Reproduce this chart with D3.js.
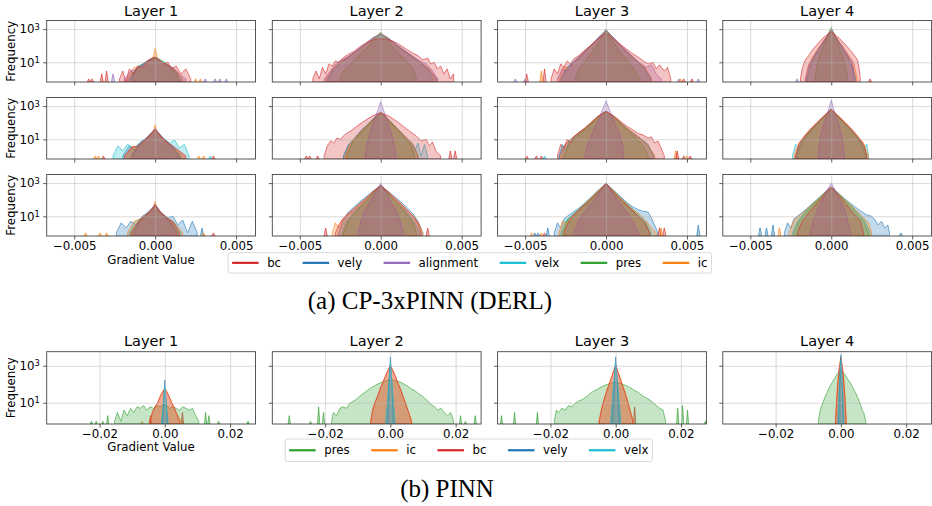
<!DOCTYPE html>
<html>
<head>
<meta charset="utf-8">
<script src="https://cdn.jsdelivr.net/npm/d3@7"></script>
<style>
    body { margin: 0; background: #fff; }
</style>
</head>
<body>
<svg id="base" width="932" height="506" font-family="DejaVu Sans, sans-serif"></svg>
<script>
// colours and labels
const colors = {
    bc: "#d62728", vely: "#1f77b4", alignment: "#9467bd",
    velx: "#17becf", pres: "#2ca02c", ic: "#ff7f0e"
};
const topSeries = ["bc", "vely", "alignment", "velx", "pres", "ic"];
const botSeries = ["pres", "ic", "bc", "vely", "velx"];
const layerNames = ["Layer 1", "Layer 2", "Layer 3", "Layer 4"];
const topXTicks = [-0.005, 0, 0.005];
const topXLabels = ["\u22120.005", "0.000", "0.005"];
const botXTicks = [-0.02, 0, 0.02];
const botXLabels = ["\u22120.02", "0.00", "0.02"];
const yTicks = [10, 1000];
const captionA = "(a) CP-3xPINN (DERL)";
const captionB = "(b) PINN";

// x values are in units of 1e-3, counts are raw bin counts
const UNIT = 1e-3;

// (a) row 1
const r1L1 = {
    bc: [[-2.2,1],[-2.0,3],[-1.8,0.5],[-1.6,4],[-1.3,2],[-1.1,6],[-0.8,5],[-0.5,12],[-0.2,18],[0,20],[0.2,15],[0.5,8],[0.8,10],[1.0,4],[1.3,6],[1.6,2],[1.9,4],[2.2,1]],
    vely: [[-1.6,1],[-1.2,4],[-0.8,7],[-0.4,12],[0,18],[0.4,10],[0.8,6],[1.2,3],[1.6,1]],
    alignment: [[-1.9,1],[-1.5,3],[-1.1,4],[-0.7,9],[-0.3,15],[0,20],[0.3,13],[0.7,7],[1.1,5],[1.5,2],[1.9,1]],
    velx: [[-1.5,1],[-1.1,5],[-0.7,8],[-0.3,14],[0,19],[0.3,12],[0.7,8],[1.1,3],[1.5,1]],
    pres: [[-1.4,2],[-1.0,6],[-0.6,10],[-0.3,15],[0,21],[0.3,15],[0.6,10],[1.0,5],[1.4,2]],
    ic: [[-1.7,1],[-1.3,5],[-0.9,4],[-0.5,9],[-0.15,14],[0,70],[0.15,16],[0.5,9],[0.9,6],[1.3,3],[1.7,1]]
};
const r1L1Spikes = [["bc",-4.1,1],["bc",-3.9,1],["bc",-3.3,2],["bc",-3.0,3],["alignment",-2.6,2],["ic",2.5,1],["ic",2.8,1],["alignment",3.1,1],["alignment",3.7,1],["alignment",4.0,1],["alignment",4.4,1]];

const r1L2 = {
    bc: [[-4.2,1],[-4.0,3],[-3.8,1],[-3.6,5],[-3.4,2],[-3.2,8],[-3.0,6],[-2.8,12],[-2.6,10],[-2.3,20],[-2.0,30],[-1.6,50],[-1.2,100],[-0.8,170],[-0.4,240],[0,260],[0.4,240],[0.8,180],[1.2,110],[1.6,60],[2.0,35],[2.3,25],[2.6,14],[2.9,18],[3.1,8],[3.3,10],[3.5,4],[3.7,6],[3.9,2],[4.1,4],[4.3,1],[4.5,2]],
    vely: [[-3.3,1],[-3.0,3],[-2.7,6],[-2.3,12],[-1.9,25],[-1.4,55],[-0.9,130],[-0.4,320],[0,480],[0.4,300],[0.9,120],[1.4,50],[1.9,22],[2.4,10],[2.8,5],[3.2,2],[3.5,1]],
    alignment: [[-3.5,1],[-3.1,3],[-2.8,8],[-2.4,14],[-2.0,22],[-1.5,50],[-1.0,120],[-0.5,300],[0,520],[0.5,280],[1.0,110],[1.5,50],[2.0,22],[2.4,12],[2.8,8],[3.2,3],[3.5,1]],
    velx: [[-3.2,1],[-2.9,4],[-2.5,10],[-2.0,22],[-1.5,48],[-1.0,110],[-0.5,280],[0,500],[0.5,270],[1.0,110],[1.5,48],[2.0,22],[2.5,10],[2.9,4],[3.2,1]],
    pres: [[-2.5,1],[-2.3,3],[-2.0,6],[-1.6,14],[-1.2,35],[-0.8,80],[-0.4,250],[0,660],[0.4,230],[0.8,70],[1.2,28],[1.6,12],[2.0,4],[2.2,1]],
    ic: [[-3.4,1],[-3.0,4],[-2.6,9],[-2.2,16],[-1.8,28],[-1.3,60],[-0.8,150],[-0.4,330],[0,540],[0.4,320],[0.8,140],[1.3,55],[1.8,26],[2.2,14],[2.6,8],[3.0,4],[3.4,1]]
};
const r1L2Spikes = [];

const r1L3 = {
    bc: [[-3.4,1],[-3.2,4],[-3.0,2],[-2.8,8],[-2.6,5],[-2.4,12],[-2.2,8],[-2.0,16],[-1.7,25],[-1.4,45],[-1.1,80],[-0.8,140],[-0.4,300],[0,570],[0.4,300],[0.8,140],[1.2,70],[1.6,35],[2.0,20],[2.3,12],[2.6,8],[2.9,10],[3.1,4],[3.3,7],[3.6,3],[3.8,5],[4.0,1]],
    vely: [[-2.8,1],[-2.5,4],[-2.1,9],[-1.7,20],[-1.3,50],[-0.9,110],[-0.5,280],[0,880],[0.5,270],[0.9,100],[1.3,45],[1.7,18],[2.1,8],[2.5,3],[2.8,1]],
    alignment: [[-3.0,1],[-2.7,4],[-2.4,3],[-2.1,8],[-1.7,18],[-1.3,45],[-0.9,110],[-0.5,300],[0,900],[0.5,280],[0.9,110],[1.3,45],[1.7,20],[2.1,9],[2.5,5],[2.8,7],[3.1,2],[3.4,1]],
    velx: [[-2.7,1],[-2.4,5],[-2.0,10],[-1.6,22],[-1.2,50],[-0.8,130],[-0.4,330],[0,900],[0.4,320],[0.8,120],[1.2,50],[1.6,20],[2.0,9],[2.4,4],[2.7,1]],
    pres: [[-1.9,1],[-1.7,4],[-1.4,8],[-1.1,20],[-0.8,50],[-0.4,200],[0,950],[0.4,190],[0.8,50],[1.2,18],[1.5,8],[1.8,3],[2.1,1]],
    ic: [[-2.9,1],[-2.6,6],[-2.3,4],[-2.0,10],[-1.6,22],[-1.2,55],[-0.8,130],[-0.4,320],[0,880],[0.4,310],[0.8,125],[1.2,50],[1.6,22],[2.0,9],[2.4,5],[2.8,1]]
};
const r1L3Spikes = [["alignment",-5.6,1],["alignment",-5.0,1],["bc",-4.9,2],["bc",-3.8,4],["ic",-4.0,3],["alignment",4.5,1],["bc",4.8,1],["ic",4.6,1],["bc",5.3,1],["alignment",5.7,1]];

const r1L4 = {
    bc: [[-1.9,1],[-1.8,4],[-1.7,8],[-1.6,14],[-1.4,25],[-1.2,50],[-0.9,110],[-0.5,300],[0,700],[0.5,280],[0.9,110],[1.2,50],[1.4,28],[1.6,15],[1.7,6],[1.8,1]],
    vely: [[-1.5,1],[-1.3,6],[-1.0,25],[-0.6,100],[-0.3,300],[0,900],[0.3,290],[0.6,95],[1.0,22],[1.3,5],[1.5,1]],
    alignment: [[-1.6,1],[-1.4,6],[-1.1,20],[-0.7,90],[-0.3,350],[0,900],[0.3,330],[0.7,80],[1.1,20],[1.3,12],[1.4,2]],
    velx: [[-1.5,1],[-1.3,7],[-1.0,26],[-0.6,105],[-0.3,310],[0,920],[0.3,300],[0.6,100],[1.0,24],[1.3,6],[1.5,1]],
    pres: [[-1.0,1],[-0.9,6],[-0.7,25],[-0.4,150],[-0.2,500],[0,1260],[0.2,480],[0.4,140],[0.7,22],[0.9,5],[1.0,1]],
    ic: [[-1.6,1],[-1.4,7],[-1.1,25],[-0.7,100],[-0.3,320],[0,880],[0.3,310],[0.7,95],[1.1,24],[1.4,8],[1.6,1]]
};
const r1L4Spikes = [["alignment",-2.1,1],["bc",2.4,1]];

// (a) row 2
const r2L1 = {
    bc: [[-1.9,1],[-1.5,3],[-1.1,4],[-0.7,8],[-0.3,20],[0,40],[0.3,18],[0.7,7],[1.1,4],[1.5,2],[1.9,1]],
    vely: [[-2.0,1],[-1.6,4],[-1.2,2],[-0.8,8],[-0.4,15],[0,38],[0.4,14],[0.8,6],[1.2,3],[1.6,1]],
    alignment: [[-1.4,1],[-1.0,5],[-0.6,10],[-0.3,22],[0,45],[0.3,20],[0.6,9],[1.0,4],[1.4,1]],
    velx: [[-2.6,1],[-2.3,4],[-2.0,2],[-1.7,5],[-1.3,3],[-0.9,7],[-0.5,12],[0,35],[0.5,12],[0.9,6],[1.2,9],[1.5,3],[1.8,5],[2.1,1]],
    pres: [[-1.5,1],[-1.1,4],[-0.7,8],[-0.3,18],[0,36],[0.3,16],[0.7,8],[1.1,3],[1.5,1]],
    ic: [[-1.8,1],[-1.4,4],[-1.0,3],[-0.6,9],[-0.15,22],[0,75],[0.15,20],[0.6,8],[1.0,3],[1.4,2],[1.8,1]]
};
const r2L1Spikes = [["ic",-3.7,1],["ic",-3.5,1],["bc",-3.2,1],["ic",2.7,1],["ic",3.0,1],["velx",3.4,1],["bc",3.6,1]];

const r2L2 = {
    bc: [[-3.5,1],[-3.3,4],[-3.1,8],[-2.9,6],[-2.7,12],[-2.5,10],[-2.2,20],[-1.8,35],[-1.4,70],[-1.0,130],[-0.5,260],[0,400],[0.5,250],[1.0,120],[1.4,60],[1.8,30],[2.2,16],[2.5,8],[2.8,10],[3.0,4],[3.2,7],[3.4,2],[3.7,1]],
    vely: [[-2.3,1],[-2.0,4],[-1.6,12],[-1.2,35],[-0.8,80],[-0.4,200],[0,430],[0.4,190],[0.8,75],[1.2,30],[1.6,12],[2.0,5],[2.3,1]],
    alignment: [[-0.95,1],[-0.8,8],[-0.6,40],[-0.4,150],[-0.2,500],[0,1800],[0.2,480],[0.4,140],[0.6,35],[0.8,6],[0.95,1]],
    velx: [[-2.3,1],[-2.0,5],[-1.6,12],[-1.2,35],[-0.8,80],[-0.4,200],[0,430],[0.4,190],[0.8,75],[1.2,30],[1.6,10],[1.9,5],[2.1,2],[2.3,6],[2.5,1],[2.7,5],[2.9,1]],
    pres: [[-2.1,1],[-1.8,5],[-1.4,15],[-1.0,40],[-0.5,130],[0,420],[0.5,130],[1.0,40],[1.4,15],[1.8,5],[2.1,1]],
    ic: [[-2.2,1],[-1.9,5],[-1.5,14],[-1.1,38],[-0.6,110],[0,440],[0.6,110],[1.1,36],[1.5,14],[1.9,6],[2.3,1]]
};
const r2L2Spikes = [["bc",-4.6,1],["bc",-4.4,1],["bc",-3.9,1],["bc",4.3,2],["bc",4.6,2]];

const r2L3 = {
    bc: [[-3.0,1],[-2.8,5],[-2.6,3],[-2.4,10],[-2.2,6],[-2.0,14],[-1.7,25],[-1.3,50],[-0.9,110],[-0.5,250],[0,470],[0.5,250],[0.9,120],[1.3,60],[1.7,35],[2.0,22],[2.3,18],[2.6,12],[2.8,14],[3.0,6],[3.2,8],[3.4,3],[3.6,1]],
    vely: [[-2.9,1],[-2.6,4],[-2.2,10],[-1.8,20],[-1.3,45],[-0.9,100],[-0.5,240],[0,480],[0.5,230],[0.9,100],[1.3,45],[1.8,20],[2.2,10],[2.6,5],[2.9,1]],
    alignment: [[-1.3,1],[-1.1,6],[-0.8,30],[-0.5,120],[-0.25,500],[0,2000],[0.25,480],[0.5,110],[0.8,25],[1.0,5],[1.1,1]],
    velx: [[-2.9,1],[-2.7,5],[-2.5,2],[-2.3,7],[-2.0,12],[-1.6,25],[-1.2,55],[-0.8,120],[-0.4,270],[0,490],[0.4,260],[0.8,120],[1.2,55],[1.6,25],[2.0,12],[2.4,6],[2.7,3],[3.0,1]],
    pres: [[-2.6,1],[-2.3,5],[-1.9,12],[-1.5,28],[-1.0,70],[-0.5,220],[0,500],[0.5,210],[1.0,65],[1.5,25],[1.9,10],[2.3,4],[2.6,1]],
    ic: [[-2.8,1],[-2.5,5],[-2.1,12],[-1.7,24],[-1.2,55],[-0.7,150],[0,490],[0.7,145],[1.2,52],[1.7,22],[2.1,11],[2.5,5],[2.8,2],[3.0,1]]
};
const r2L3Spikes = [["bc",-4.9,1],["bc",-4.3,1],["bc",-4.0,1],["velx",-3.8,1],["ic",4.3,2],["bc",4.4,2],["bc",4.8,1],["ic",5.0,1],["bc",5.2,1]];

const r2L4 = {
    bc: [[-2.2,1],[-2.0,5],[-1.7,14],[-1.3,40],[-0.9,100],[-0.5,240],[0,620],[0.5,230],[0.9,95],[1.3,38],[1.7,13],[2.0,5],[2.2,1]],
    vely: [[-2.2,1],[-1.9,6],[-1.5,20],[-1.1,55],[-0.6,170],[0,630],[0.6,165],[1.1,52],[1.5,18],[1.9,6],[2.2,1]],
    alignment: [[-0.8,1],[-0.7,10],[-0.5,60],[-0.3,250],[-0.15,700],[0,2200],[0.15,680],[0.3,240],[0.5,55],[0.7,8],[0.8,1]],
    velx: [[-2.4,1],[-2.2,5],[-2.0,3],[-1.8,8],[-1.4,25],[-1.0,65],[-0.5,200],[0,640],[0.5,195],[1.0,62],[1.4,22],[1.8,8],[2.0,3],[2.2,5],[2.3,1]],
    pres: [[-2.1,1],[-1.8,6],[-1.4,22],[-1.0,60],[-0.5,190],[0,650],[0.5,185],[1.0,58],[1.4,20],[1.8,6],[2.1,1]],
    ic: [[-2.3,1],[-2.0,6],[-1.6,18],[-1.2,48],[-0.7,140],[0,640],[0.7,135],[1.2,45],[1.6,16],[2.0,6],[2.3,1]]
};
const r2L4Spikes = [];

// (a) row 3
const r3L1 = {
    bc: [[-1.5,1],[-1.1,4],[-0.7,9],[-0.3,22],[0,50],[0.3,20],[0.7,8],[1.1,5],[1.5,1]],
    vely: [[-2.4,1],[-2.1,4],[-1.8,2],[-1.5,5],[-1.2,3],[-0.8,10],[-0.4,18],[0,45],[0.4,16],[0.8,8],[1.1,10],[1.4,3],[1.7,6],[2.0,1],[2.3,5],[2.6,1]],
    alignment: [[-1.3,1],[-0.9,6],[-0.5,14],[-0.2,28],[0,55],[0.2,26],[0.5,12],[0.9,5],[1.3,1]],
    velx: [[-1.6,1],[-1.2,5],[-0.8,8],[-0.4,18],[0,48],[0.4,15],[0.8,7],[1.2,4],[1.6,1]],
    pres: [[-1.4,1],[-1.0,5],[-0.6,10],[-0.3,20],[0,48],[0.3,18],[0.6,9],[1.0,4],[1.4,1]],
    ic: [[-1.7,1],[-1.3,5],[-0.9,7],[-0.5,14],[-0.15,25],[0,80],[0.15,24],[0.5,12],[0.9,6],[1.3,3],[1.7,1]]
};
const r3L1Spikes = [["ic",-4.3,1],["ic",-3.4,1],["ic",-3.0,1],["vely",2.9,2],["ic",3.0,1],["bc",3.6,1]];

const r3L2 = {
    bc: [[-2.8,1],[-2.6,3],[-2.3,8],[-2.0,15],[-1.6,30],[-1.2,70],[-0.8,150],[-0.4,350],[0,700],[0.4,330],[0.8,140],[1.2,60],[1.6,25],[2.0,10],[2.3,4],[2.5,1]],
    vely: [[-2.6,1],[-2.3,6],[-2.0,18],[-1.6,40],[-1.2,90],[-0.8,180],[-0.4,380],[0,720],[0.4,360],[0.8,170],[1.2,80],[1.6,35],[2.0,14],[2.3,5],[2.6,1]],
    alignment: [[-1.4,1],[-1.2,6],[-1.0,20],[-0.7,60],[-0.4,200],[0,1000],[0.4,190],[0.7,55],[1.0,18],[1.2,5],[1.4,1]],
    velx: [[-2.4,1],[-2.1,5],[-1.8,12],[-1.4,30],[-1.0,70],[-0.5,200],[0,730],[0.5,190],[1.0,65],[1.4,28],[1.8,10],[2.1,4],[2.4,1]],
    pres: [[-2.3,1],[-2.0,5],[-1.6,16],[-1.2,45],[-0.8,110],[-0.4,300],[0,740],[0.4,290],[0.8,100],[1.2,40],[1.6,14],[2.0,4],[2.2,1]],
    ic: [[-3.0,1],[-2.8,4],[-2.6,2],[-2.4,6],[-2.1,10],[-1.7,25],[-1.3,55],[-0.9,120],[-0.5,280],[0,720],[0.5,270],[0.9,115],[1.3,50],[1.7,20],[2.1,8],[2.4,3],[2.6,1]]
};
const r3L2Spikes = [["bc",-3.4,2],["bc",2.9,2]];

const r3L3 = {
    bc: [[-2.6,1],[-2.3,5],[-2.0,12],[-1.6,28],[-1.2,60],[-0.8,140],[-0.4,350],[0,920],[0.4,340],[0.8,130],[1.2,55],[1.6,24],[2.0,10],[2.4,4],[2.7,1]],
    vely: [[-3.2,1],[-3.0,4],[-2.8,2],[-2.6,7],[-2.4,10],[-2.1,16],[-1.7,30],[-1.3,65],[-0.9,150],[-0.5,360],[0,950],[0.5,350],[0.9,150],[1.3,65],[1.7,35],[2.0,25],[2.3,20],[2.6,18],[2.8,8],[3.0,3],[3.2,1]],
    alignment: [[-2.0,1],[-1.7,5],[-1.4,14],[-1.0,45],[-0.6,140],[-0.3,400],[0,1000],[0.3,380],[0.6,130],[1.0,40],[1.4,12],[1.7,4],[2.0,1]],
    velx: [[-2.8,1],[-2.5,5],[-2.1,12],[-1.7,26],[-1.3,60],[-0.9,140],[-0.5,340],[0,930],[0.5,330],[0.9,135],[1.3,58],[1.7,25],[2.1,11],[2.5,4],[2.8,1]],
    pres: [[-2.7,1],[-2.4,6],[-2.0,12],[-1.6,28],[-1.2,60],[-0.8,140],[-0.4,340],[0,940],[0.4,330],[0.8,130],[1.2,55],[1.6,24],[2.0,10],[2.4,4],[2.7,1]],
    ic: [[-2.9,1],[-2.7,5],[-2.4,4],[-2.1,10],[-1.7,24],[-1.3,58],[-0.9,135],[-0.5,330],[0,920],[0.5,320],[0.9,130],[1.3,55],[1.7,24],[2.1,12],[2.5,5],[2.8,2],[3.1,1]]
};
const r3L3Spikes = [["ic",-4.6,1],["vely",-4.4,1],["vely",-4.2,1],["ic",-4.0,1],["bc",-3.8,1],["vely",-3.6,2],["bc",3.3,2],["ic",3.4,2],["bc",3.6,2],["vely",5.7,3]];

const r3L4 = {
    bc: [[-2.1,1],[-1.8,5],[-1.4,16],[-1.0,45],[-0.5,170],[0,560],[0.5,165],[1.0,42],[1.4,14],[1.8,5],[2.0,1]],
    vely: [[-2.9,1],[-2.7,4],[-2.5,2],[-2.3,7],[-2.0,12],[-1.6,25],[-1.2,55],[-0.8,120],[-0.4,280],[0,580],[0.4,270],[0.8,120],[1.2,60],[1.6,30],[1.9,18],[2.2,12],[2.5,10],[2.7,6],[2.9,3],[3.1,5],[3.3,2],[3.5,3],[3.6,1]],
    alignment: [[-1.3,1],[-1.1,6],[-0.8,30],[-0.5,120],[-0.25,380],[0,1000],[0.25,360],[0.5,110],[0.8,28],[1.0,6],[1.2,1]],
    velx: [[-2.4,1],[-2.1,5],[-1.7,15],[-1.3,40],[-0.9,95],[-0.5,220],[0,570],[0.5,215],[0.9,90],[1.3,38],[1.7,14],[2.1,5],[2.4,1]],
    pres: [[-2.3,1],[-2.0,5],[-1.6,16],[-1.2,42],[-0.8,100],[-0.4,250],[0,575],[0.4,245],[0.8,95],[1.2,40],[1.6,14],[2.0,5],[2.3,1]],
    ic: [[-2.6,1],[-2.3,6],[-2.0,10],[-1.6,22],[-1.2,50],[-0.8,110],[-0.4,260],[0,570],[0.4,250],[0.8,105],[1.2,48],[1.6,20],[2.0,8],[2.3,4],[2.5,1]]
};
const r3L4Spikes = [["vely",-4.4,2],["vely",-4.0,2],["vely",-3.6,3],["ic",-3.2,2],["vely",4.3,1]];

// (b) PINN
const pL1 = {
    pres: [[-15.4,1],[-14.5,3],[-13.5,1],[-12.5,4],[-11.5,2],[-10.5,5],[-9.5,3],[-8.5,6],[-7.5,5],[-6.5,7],[-5.5,4],[-4.5,6],[-3.5,5],[-2.5,7],[-1.5,6],[-0.5,8],[0.5,7],[1.5,5],[2.5,6],[3.5,5],[4.5,4],[5.5,6],[6.5,5],[7.5,4],[8.5,5],[9.5,2],[10.4,1]],
    ic: [[-4.8,1],[-4.2,2],[-3.5,4],[-2.8,6],[-2.0,12],[-1.2,28],[-0.5,45],[0,60],[0.5,45],[1.2,25],[2.0,12],[2.8,6],[3.5,3],[4.2,2],[4.9,1]],
    bc: [[-4.5,1],[-3.8,3],[-3.0,6],[-2.2,10],[-1.4,22],[-0.6,40],[0,55],[0.6,38],[1.4,20],[2.2,9],[3.0,5],[3.8,2],[4.5,1]],
    vely: [[-0.8,1],[-0.5,5],[-0.25,30],[0,170],[0.25,28],[0.5,5],[0.8,1]],
    velx: [[-1.0,1],[-0.6,4],[-0.3,20],[0,80],[0.3,20],[0.6,4],[1.0,1]]
};
const pL1Spikes = [["pres",-22.5,1],["pres",-21,1],["pres",-19,1],["pres",-17.5,2],["ic",-7,1],["bc",-4.4,2],["ic",5.5,1],["bc",5.4,3],["pres",12.5,3],["pres",13.5,2],["pres",16.5,1],["pres",25.5,1]];

const pL2 = {
    pres: [[-18,1],[-17.5,3],[-16.5,2],[-15.5,5],[-14.5,6],[-13.5,5],[-12.5,9],[-11.5,12],[-10.5,15],[-9.5,22],[-8.5,30],[-7.5,40],[-6.5,55],[-5.5,70],[-4.5,90],[-3.5,110],[-2.5,130],[-1.5,150],[-0.5,170],[0.5,175],[1.5,160],[2.5,140],[3.5,120],[4.5,95],[5.5,75],[6.5,55],[7.5,45],[8.5,32],[9.5,25],[10.5,18],[11.5,12],[12.5,8],[13.5,6],[14.5,4],[15.5,5],[16.5,3],[17.5,2],[18.5,3],[19.4,1]],
    ic: [[-6.1,1],[-5.5,3],[-4.8,8],[-4.0,20],[-3.2,50],[-2.4,110],[-1.6,250],[-0.8,550],[0,1100],[0.8,520],[1.6,240],[2.4,100],[3.2,45],[4.0,18],[4.8,7],[5.6,3],[6.6,1]],
    bc: [[-6.0,1],[-5.5,4],[-4.8,10],[-4.0,22],[-3.2,55],[-2.4,120],[-1.6,260],[-0.8,560],[0,1000],[0.8,540],[1.6,250],[2.4,110],[3.2,50],[4.0,20],[4.8,8],[5.6,3],[6.4,1]],
    vely: [[-1.0,1],[-0.7,10],[-0.4,150],[0,3000],[0.4,140],[0.7,10],[1.0,1]],
    velx: [[-1.5,1],[-1.0,8],[-0.5,100],[0,1600],[0.5,95],[1.0,8],[1.5,1]]
};
const pL2Spikes = [["pres",-31,2],["pres",-24.5,1],["pres",-22,6],["pres",-20.5,3],["pres",21.5,2],["pres",23,1],["pres",26,2]];

const pL3 = {
    pres: [[-18.8,1],[-18.2,4],[-17.5,3],[-16.5,5],[-15.5,4],[-14.5,7],[-13.5,6],[-12.5,9],[-11.5,12],[-10.5,14],[-9.5,18],[-8.5,25],[-7.5,35],[-6.5,45],[-5.5,55],[-4.5,70],[-3.5,85],[-2.5,100],[-1.5,115],[-0.5,130],[0.5,125],[1.5,110],[2.5,95],[3.5,80],[4.5,65],[5.5,50],[6.5,40],[7.5,30],[8.5,22],[9.5,18],[10.5,14],[11.5,10],[12.5,7],[13.5,5],[14.5,4],[15.3,1]],
    ic: [[-5.2,1],[-4.6,3],[-3.9,10],[-3.1,30],[-2.3,80],[-1.5,200],[-0.7,500],[0,1000],[0.7,480],[1.5,190],[2.3,75],[3.1,28],[3.9,9],[4.7,3],[5.4,1]],
    bc: [[-5.0,1],[-4.4,4],[-3.7,12],[-2.9,35],[-2.1,90],[-1.3,220],[-0.6,550],[0,1200],[0.6,520],[1.3,210],[2.1,85],[2.9,32],[3.7,11],[4.5,3],[5.3,1]],
    vely: [[-1.2,1],[-0.8,12],[-0.4,200],[0,3000],[0.4,190],[0.8,12],[1.2,1]],
    velx: [[-1.6,1],[-1.1,10],[-0.6,120],[0,1500],[0.6,110],[1.1,10],[1.6,1]]
};
const pL3Spikes = [["pres",-35,2],["pres",-31,3],["pres",-24,3],["bc",5.8,6],["pres",19,5],["pres",20.5,7],["pres",22,4],["pres",27.5,1]];

const pL4 = {
    pres: [[-6.9,1],[-6.5,3],[-6.0,6],[-5.5,10],[-5.0,18],[-4.5,28],[-4.0,45],[-3.5,70],[-3.0,100],[-2.5,140],[-2.0,200],[-1.5,280],[-1.0,380],[-0.5,500],[0,630],[0.5,500],[1.0,380],[1.5,280],[2.0,200],[2.5,150],[3.0,110],[3.5,75],[4.0,50],[4.5,35],[5.0,22],[5.5,14],[6.0,8],[6.5,4],[7.0,3],[7.6,1]],
    ic: [[-1.7,1],[-1.3,20],[-0.9,200],[-0.5,900],[0,3000],[0.5,850],[0.9,180],[1.3,18],[1.7,1]],
    bc: [[-1.6,1],[-1.2,25],[-0.8,220],[-0.4,1000],[0,2500],[0.4,950],[0.8,200],[1.2,22],[1.6,1]],
    vely: [[-0.8,1],[-0.5,30],[-0.25,400],[0,4000],[0.25,380],[0.5,28],[0.8,1]],
    velx: [[-0.9,1],[-0.6,20],[-0.3,300],[0,2000],[0.3,280],[0.6,18],[0.9,1]]
};
const pL4Spikes = [];

// layout
const colX = [46.7, 272.3, 497.6, 722.8];
const panelW = 208.8;
const topRowY = [20.5, 97.5, 174.5];
const topH = 61.5;
const botRowY = 351.7;
const botH = 72.3;
const topXLim = [-0.0067, 0.0062];
const topYLim = [0.65, 3300];
const botXLim = [-0.0362, 0.0278];
const botYLim = [0.71, 5750];

const svg = d3.select("#base");
const defs = svg.append("defs");
let clipId = 0;

function drawPanel(px, py, ph, xLim, yLim, data, drawOrder, spikes, binW, xt, xl, showXLabels, showYLabels) {
    const x = d3.scaleLinear().domain(xLim).range([px, px + panelW]);
    const y = d3.scaleLog().domain(yLim).range([py + ph, py]);
    const g = svg.append("g");

    const cid = "clip" + clipId++;
    defs.append("clipPath").attr("id", cid)
        .append("rect").attr("x", px).attr("y", py).attr("width", panelW).attr("height", ph);

    const plot = g.append("g").attr("clip-path", `url(#${cid})`);

    const area = d3.area()
        .x((d) => x(d[0] * UNIT))
        .y0(py + ph)
        .y1((d) => y(Math.max(d[1], yLim[0])));

    plot.selectAll(".spike")
        .data(spikes)
        .enter()
        .append("path")
        .attr("d", (s) => area([[s[1] - binW, yLim[0]], [s[1], s[2]], [s[1] + binW, yLim[0]]]))
        .attr("fill", (s) => colors[s[0]])
        .attr("fill-opacity", 0.35)
        .attr("stroke", (s) => colors[s[0]])
        .attr("stroke-opacity", 0.8)
        .attr("stroke-width", 0.8);

    drawOrder.forEach((k) => {
        plot.append("path")
            .datum(data[k])
            .attr("d", area)
            .attr("fill", colors[k])
            .attr("fill-opacity", 0.27)
            .attr("stroke", colors[k])
            .attr("stroke-opacity", 0.75)
            .attr("stroke-width", 0.8);
    });

    // grid
    const gx = g.append("g")
        .attr("transform", `translate(0,${py + ph})`)
        .call(d3.axisBottom(x).tickValues(xt).tickSize(-ph).tickFormat(""));
    const gy = g.append("g")
        .attr("transform", `translate(${px},0)`)
        .call(d3.axisLeft(y).tickValues(yTicks).tickSize(-panelW).tickFormat(""));
    [gx, gy].forEach((a) => {
        a.select(".domain").remove();
        a.selectAll("line").attr("stroke", "#b0b0b0").attr("stroke-opacity", 0.6).attr("stroke-width", 0.8);
    });

    // ticks
    const ax = g.append("g")
        .attr("transform", `translate(0,${py + ph})`)
        .call(d3.axisBottom(x).tickValues(xt).tickSize(3.5).tickPadding(2.5)
            .tickFormat((d, i) => (showXLabels ? xl[i] : "")));
    const ay = g.append("g")
        .attr("transform", `translate(${px},0)`)
        .call(d3.axisLeft(y).tickValues(yTicks).tickSize(3.5).tickPadding(3.5)
            .tickFormat((d) => (showYLabels ? "10" : "")));
    [ax, ay].forEach((a) => {
        a.select(".domain").remove();
        a.selectAll("line").attr("stroke", "#333").attr("stroke-width", 0.8);
        a.selectAll("text").attr("font-size", 11.8).attr("font-family", "DejaVu Sans").attr("fill", "#000");
    });
    if (showYLabels) {
        ay.selectAll("text").each(function (d) {
            d3.select(this).append("tspan")
                .attr("dy", "-0.45em")
                .attr("font-size", 8.3)
                .text(Math.round(Math.log10(d)));
        });
    }

    // frame
    g.append("rect")
        .attr("x", px).attr("y", py).attr("width", panelW).attr("height", ph)
        .attr("fill", "none").attr("stroke", "#444").attr("stroke-width", 0.9);

    return g;
}

function drawLegend(keys, cx, yTop, h) {
    const lg = svg.append("g");
    const box = lg.append("rect");
    let cur = 0;
    const items = [];
    keys.forEach((k) => {
        const it = lg.append("g");
        it.append("line").attr("x1", cur).attr("x2", cur + 26.5)
            .attr("stroke", colors[k]).attr("stroke-width", 2.2);
        const t = it.append("text").attr("x", cur + 35).attr("y", 4.2)
            .attr("font-size", 11.8).text(k);
        cur += 35 + t.node().getComputedTextLength() + 21.5;
        items.push(it);
    });
    const total = cur - 21.5;
    const x0 = cx - total / 2;
    items.forEach((it) => it.attr("transform", `translate(${x0},${yTop + h / 2})`));
    box.attr("x", x0 - 4).attr("y", yTop).attr("width", total + 8).attr("height", h)
        .attr("rx", 2).attr("fill", "#fff").attr("stroke", "#d0d0d0").attr("stroke-width", 0.8);
}

// (a) - bc ends up on top, purple core above the orange
const topOrder = ["vely", "velx", "pres", "ic", "alignment", "bc"];
const topPanels = [
    [r1L1, r1L2, r1L3, r1L4],
    [r2L1, r2L2, r2L3, r2L4],
    [r3L1, r3L2, r3L3, r3L4]
];
const topSpikes = [
    [r1L1Spikes, r1L2Spikes, r1L3Spikes, r1L4Spikes],
    [r2L1Spikes, r2L2Spikes, r2L3Spikes, r2L4Spikes],
    [r3L1Spikes, r3L2Spikes, r3L3Spikes, r3L4Spikes]
];
topPanels.forEach((row, r) => {
    row.forEach((panel, c) => {
        drawPanel(colX[c], topRowY[r], topH, topXLim, topYLim, panel, topOrder,
            topSpikes[r][c], 0.1, topXTicks, topXLabels, r === 2, c === 0);
    });
    svg.append("text")
        .attr("transform", `translate(14.5,${topRowY[r] + topH / 2}) rotate(-90)`)
        .attr("text-anchor", "middle").attr("font-size", 11.8).text("Frequency");
});
layerNames.forEach((n, c) => {
    svg.append("text").attr("x", colX[c] + panelW / 2).attr("y", 16.2)
        .attr("text-anchor", "middle").attr("font-size", 14.5).text(n);
});
svg.append("text").attr("x", colX[0] + panelW / 2).attr("y", 264.3)
    .attr("text-anchor", "middle").attr("font-size", 11.8).text("Gradient Value");
drawLegend(topSeries, 469.8, 252.7, 20.3);
svg.append("text").attr("x", 430).attr("y", 309)
    .attr("text-anchor", "middle").attr("font-family", "Liberation Serif, serif")
    .attr("font-size", 25).text(captionA);

// (b)
const botPanels = [pL1, pL2, pL3, pL4];
const botSpikes = [pL1Spikes, pL2Spikes, pL3Spikes, pL4Spikes];
botPanels.forEach((panel, c) => {
    drawPanel(colX[c], botRowY, botH, botXLim, botYLim, panel, botSeries,
        botSpikes[c], 0.35, botXTicks, botXLabels, true, c === 0);
    svg.append("text").attr("x", colX[c] + panelW / 2).attr("y", 345.5)
        .attr("text-anchor", "middle").attr("font-size", 14.5).text(layerNames[c]);
});
svg.append("text")
    .attr("transform", `translate(14.5,${botRowY + botH / 2}) rotate(-90)`)
    .attr("text-anchor", "middle").attr("font-size", 11.8).text("Frequency");
svg.append("text").attr("x", colX[0] + panelW / 2).attr("y", 451)
    .attr("text-anchor", "middle").attr("font-size", 11.8).text("Gradient Value");
drawLegend(botSeries, 468.8, 439, 22.5);
svg.append("text").attr("x", 447).attr("y", 497)
    .attr("text-anchor", "middle").attr("font-family", "Liberation Serif, serif")
    .attr("font-size", 25).text(captionB);
</script>
</body>
</html>
